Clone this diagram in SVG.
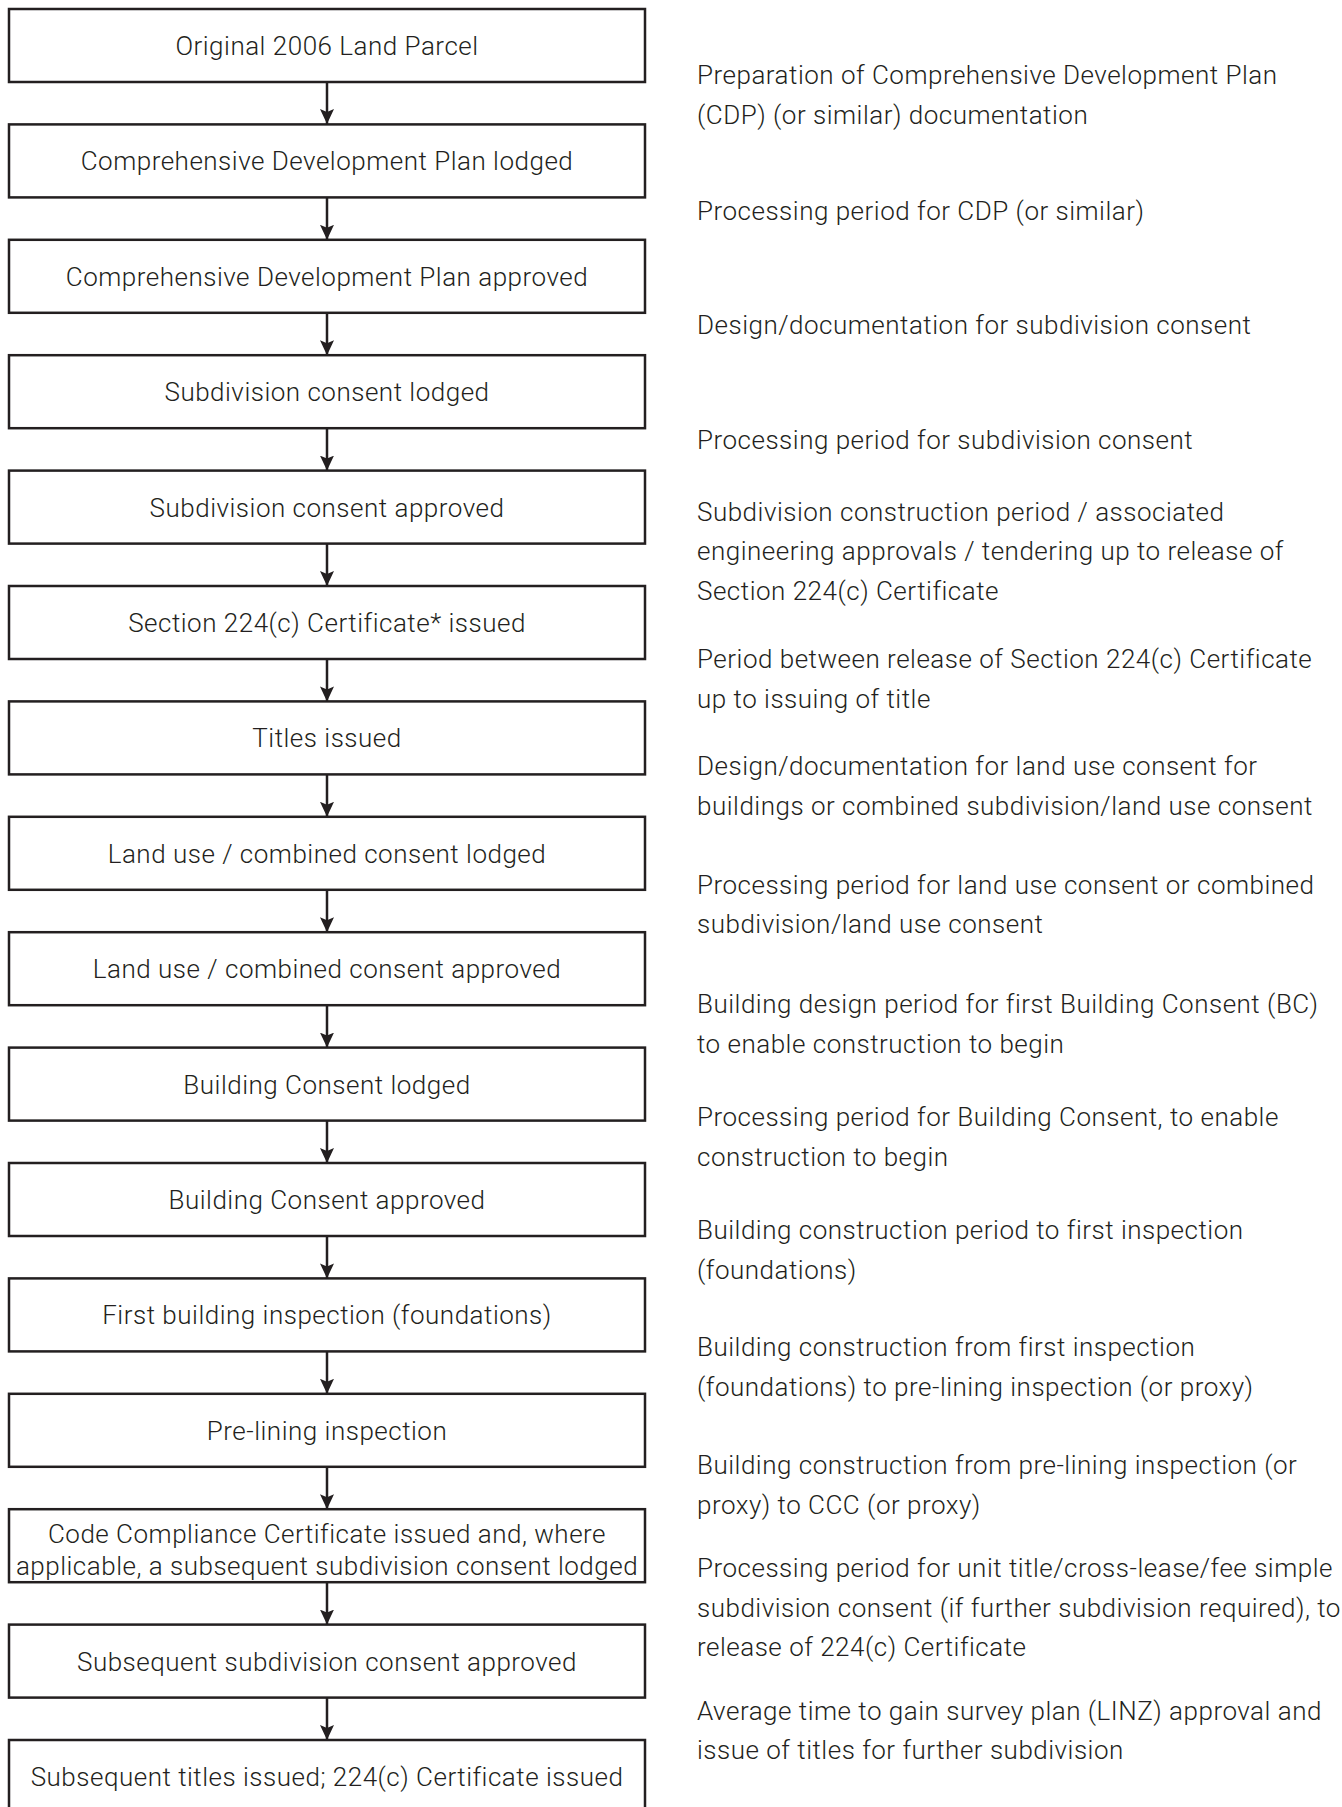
<svg xmlns="http://www.w3.org/2000/svg" width="1342" height="1807" viewBox="0 0 1342 1807">
<style>
  .box { fill: #ffffff; stroke: #231f20; stroke-width: 2.5; }
  .bt { font-family: Roboto, "Liberation Sans", sans-serif; font-weight: 300; font-size: 26px; letter-spacing: 0.5px; fill: #231f20; text-anchor: middle; }
  .rt { font-family: Roboto, "Liberation Sans", sans-serif; font-weight: 300; font-size: 26px; letter-spacing: 0.5px; fill: #231f20; }
  .conn { stroke: #231f20; stroke-width: 2.5; fill: none; }
</style>
<defs>
  <marker id="ah" markerUnits="userSpaceOnUse" markerWidth="16" markerHeight="14" refX="15" refY="7" orient="auto" viewBox="0 0 16 14">
    <path d="M0,0 L15,7 L0,14 L3,7 Z" fill="#231f20"/>
  </marker>
</defs>
<rect width="1342" height="1807" fill="#ffffff"/>

<g id="connectors">
  <line class="conn" x1="327" y1="82" x2="327" y2="124" marker-end="url(#ah)"/>
  <line class="conn" x1="327" y1="197.4" x2="327" y2="239.8" marker-end="url(#ah)"/>
  <line class="conn" x1="327" y1="312.8" x2="327" y2="355.2" marker-end="url(#ah)"/>
  <line class="conn" x1="327" y1="428.2" x2="327" y2="470.6" marker-end="url(#ah)"/>
  <line class="conn" x1="327" y1="543.6" x2="327" y2="586" marker-end="url(#ah)"/>
  <line class="conn" x1="327" y1="659" x2="327" y2="701.4" marker-end="url(#ah)"/>
  <line class="conn" x1="327" y1="774.4" x2="327" y2="816.8" marker-end="url(#ah)"/>
  <line class="conn" x1="327" y1="889.8" x2="327" y2="932.2" marker-end="url(#ah)"/>
  <line class="conn" x1="327" y1="1005.2" x2="327" y2="1047.6" marker-end="url(#ah)"/>
  <line class="conn" x1="327" y1="1120.6" x2="327" y2="1163" marker-end="url(#ah)"/>
  <line class="conn" x1="327" y1="1236" x2="327" y2="1278.4" marker-end="url(#ah)"/>
  <line class="conn" x1="327" y1="1351.4" x2="327" y2="1393.8" marker-end="url(#ah)"/>
  <line class="conn" x1="327" y1="1466.8" x2="327" y2="1509.2" marker-end="url(#ah)"/>
  <line class="conn" x1="327" y1="1582.2" x2="327" y2="1624.6" marker-end="url(#ah)"/>
  <line class="conn" x1="327" y1="1697.6" x2="327" y2="1740" marker-end="url(#ah)"/>
</g>

<g id="n1"><rect class="box" x="9" y="9" width="636" height="73"/><text class="bt" x="327" y="55">Original 2006 Land Parcel</text></g>
<g id="n2"><rect class="box" x="9" y="124.4" width="636" height="73"/><text class="bt" x="327" y="170.4">Comprehensive Development Plan lodged</text></g>
<g id="n3"><rect class="box" x="9" y="239.8" width="636" height="73"/><text class="bt" x="327" y="285.8">Comprehensive Development Plan approved</text></g>
<g id="n4"><rect class="box" x="9" y="355.2" width="636" height="73"/><text class="bt" x="327" y="401.2">Subdivision consent lodged</text></g>
<g id="n5"><rect class="box" x="9" y="470.6" width="636" height="73"/><text class="bt" x="327" y="516.6">Subdivision consent approved</text></g>
<g id="n6"><rect class="box" x="9" y="586" width="636" height="73"/><text class="bt" x="327" y="632">Section 224(c) Certificate* issued</text></g>
<g id="n7"><rect class="box" x="9" y="701.4" width="636" height="73"/><text class="bt" x="327" y="747.4">Titles issued</text></g>
<g id="n8"><rect class="box" x="9" y="816.8" width="636" height="73"/><text class="bt" x="327" y="862.8">Land use / combined consent lodged</text></g>
<g id="n9"><rect class="box" x="9" y="932.2" width="636" height="73"/><text class="bt" x="327" y="978.2">Land use / combined consent approved</text></g>
<g id="n10"><rect class="box" x="9" y="1047.6" width="636" height="73"/><text class="bt" x="327" y="1093.6">Building Consent lodged</text></g>
<g id="n11"><rect class="box" x="9" y="1163" width="636" height="73"/><text class="bt" x="327" y="1209">Building Consent approved</text></g>
<g id="n12"><rect class="box" x="9" y="1278.4" width="636" height="73"/><text class="bt" x="327" y="1324.4">First building inspection (foundations)</text></g>
<g id="n13"><rect class="box" x="9" y="1393.8" width="636" height="73"/><text class="bt" x="327" y="1439.8">Pre-lining inspection</text></g>
<g id="n14"><rect class="box" x="9" y="1509.2" width="636" height="73"/><text class="bt" x="327" y="1543">Code Compliance Certificate issued and, where</text><text class="bt" x="327" y="1575">applicable, a subsequent subdivision consent lodged</text></g>
<g id="n15"><rect class="box" x="9" y="1624.6" width="636" height="73"/><text class="bt" x="327" y="1670.6">Subsequent subdivision consent approved</text></g>
<g id="n16"><rect class="box" x="9" y="1740" width="636" height="73"/><text class="bt" x="327" y="1786">Subsequent titles issued; 224(c) Certificate issued</text></g>

<g id="periods">
  <text class="rt" x="697" y="84">Preparation of Comprehensive Development Plan</text>
  <text class="rt" x="697" y="124">(CDP) (or similar) documentation</text>
  <text class="rt" x="697" y="220">Processing period for CDP (or similar)</text>
  <text class="rt" x="697" y="334">Design/documentation for subdivision consent</text>
  <text class="rt" x="697" y="449">Processing period for subdivision consent</text>
  <text class="rt" x="697" y="520.5">Subdivision construction period / associated</text>
  <text class="rt" x="697" y="560">engineering approvals / tendering up to release of</text>
  <text class="rt" x="697" y="600">Section 224(c) Certificate</text>
  <text class="rt" x="697" y="668">Period between release of Section 224(c) Certificate</text>
  <text class="rt" x="697" y="707.5">up to issuing of title</text>
  <text class="rt" x="697" y="775">Design/documentation for land use consent for</text>
  <text class="rt" x="697" y="815">buildings or combined subdivision/land use consent</text>
  <text class="rt" x="697" y="893.5">Processing period for land use consent or combined</text>
  <text class="rt" x="697" y="933">subdivision/land use consent</text>
  <text class="rt" x="697" y="1012.5">Building design period for first Building Consent (BC)</text>
  <text class="rt" x="697" y="1052.5">to enable construction to begin</text>
  <text class="rt" x="697" y="1125.5">Processing period for Building Consent, to enable</text>
  <text class="rt" x="697" y="1165.5">construction to begin</text>
  <text class="rt" x="697" y="1239">Building construction period to first inspection</text>
  <text class="rt" x="697" y="1278.5">(foundations)</text>
  <text class="rt" x="697" y="1356">Building construction from first inspection</text>
  <text class="rt" x="697" y="1396">(foundations) to pre-lining inspection (or proxy)</text>
  <text class="rt" x="697" y="1474">Building construction from pre-lining inspection (or</text>
  <text class="rt" x="697" y="1513.5">proxy) to CCC (or proxy)</text>
  <text class="rt" x="697" y="1577">Processing period for unit title/cross-lease/fee simple</text>
  <text class="rt" x="697" y="1616.7">subdivision consent (if further subdivision required), to</text>
  <text class="rt" x="697" y="1656.4">release of 224(c) Certificate</text>
  <text class="rt" x="697" y="1719.7">Average time to gain survey plan (LINZ) approval and</text>
  <text class="rt" x="697" y="1759">issue of titles for further subdivision</text>
</g>
</svg>
